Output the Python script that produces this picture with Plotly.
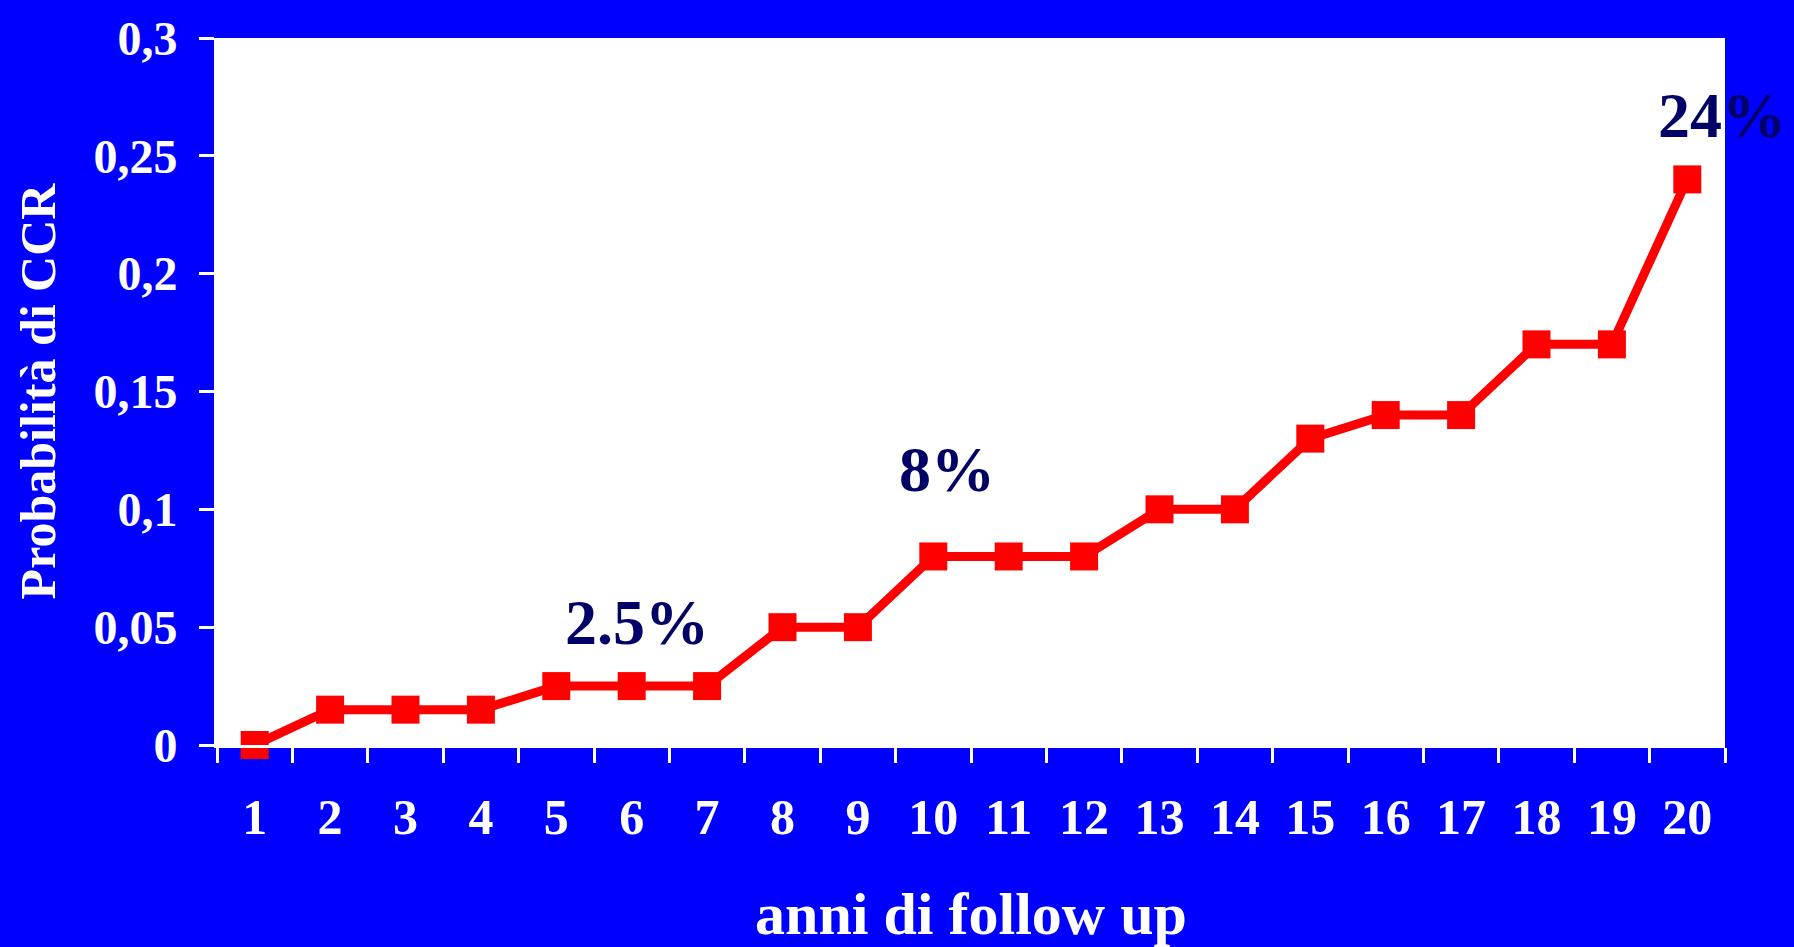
import plotly.graph_objects as go

# Follow-up years and cumulative probability of CCR
years = [str(y) for y in range(1, 21)]
prob = [0.0, 0.015, 0.015, 0.015, 0.025, 0.025, 0.025, 0.05, 0.05, 0.08,
        0.08, 0.08, 0.10, 0.10, 0.13, 0.14, 0.14, 0.17, 0.17, 0.24]

y_tickvals = [0, 0.05, 0.1, 0.15, 0.2, 0.25, 0.3]
y_ticktext = ["0", "0,05", "0,1", "0,15", "0,2", "0,25", "0,3"]

# Highlighted points: (year, x offset px, y offset px)
highlights = [("6", 5, 64), ("10", 14, 87), ("20", 35, 64)]

BLUE = "#0000FF"
RED = "#FF0000"
NAVY = "#000066"
SERIF = "Liberation Serif, Times New Roman, serif"

fig = go.Figure()
fig.add_trace(go.Scatter(
    x=years, y=prob, mode="lines+markers",
    line=dict(color=RED, width=9),
    marker=dict(symbol="square", size=28, color=RED),
    cliponaxis=False, showlegend=False,
))

for yr, dx, dy in highlights:
    idx = years.index(yr)
    v = prob[idx]
    # category axis: position annotations by category index
    fig.add_annotation(
        x=idx, y=v, text=f"<b>{v * 100:g}%</b>", showarrow=False,
        xshift=dx, yshift=dy,
        font=dict(family=SERIF, size=64, color=NAVY),
    )

fig.update_layout(
    width=1794, height=947,
    paper_bgcolor=BLUE, plot_bgcolor="white",
    margin=dict(l=217, r=69, t=32, b=199),
    font=dict(family=SERIF, color="white"),
)
fig.update_xaxes(
    type="category", range=[-0.5, 19.5], tickson="boundaries",
    ticks="outside", ticklen=15, tickwidth=3, tickcolor="white",
    showline=True, linecolor="white", linewidth=3, showgrid=False,
    tickfont=dict(family=SERIF, size=50, color="white", weight="bold"),
    ticklabelstandoff=26,
    title=dict(text="<b>anni di follow up</b>", standoff=48,
               font=dict(family=SERIF, size=60, color="white")),
)
fig.update_yaxes(
    range=[0, 0.3], tickvals=y_tickvals, ticktext=y_ticktext,
    ticks="outside", ticklen=15, tickwidth=3, tickcolor="white",
    showline=True, linecolor="white", linewidth=3, showgrid=False,
    zeroline=False,
    tickfont=dict(family=SERIF, size=48, color="white", weight="bold"),
    ticklabelstandoff=12,
    title=dict(text="<b>Probabilità di CCR</b>", standoff=22,
               font=dict(family=SERIF, size=50, color="white")),
)

fig.write_html("out.html")
